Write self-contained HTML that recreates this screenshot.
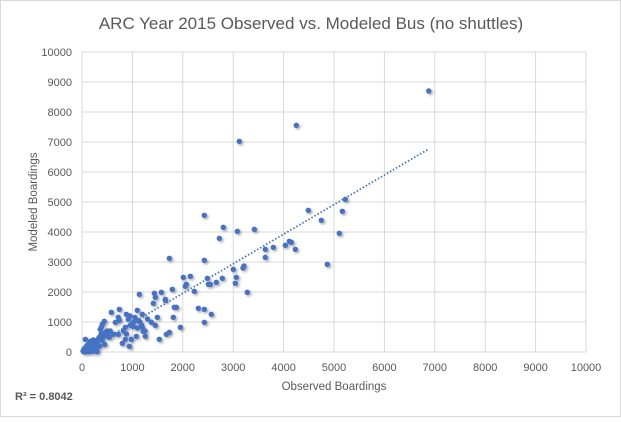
<!DOCTYPE html>
<html><head><meta charset="utf-8"><style>
body{margin:0;background:#fff;}
svg text{font-family:"Liberation Sans",sans-serif;fill:#595959;}
</style></head><body>
<svg id="chart" width="621" height="417" xmlns="http://www.w3.org/2000/svg">
<defs><filter id="sh" x="-100%" y="-100%" width="300%" height="300%"><feDropShadow dx="1.5" dy="1.5" stdDeviation="1.2" flood-color="#000" flood-opacity="0.35"/></filter></defs>
<rect x="0.5" y="0.5" width="620" height="416" fill="#fff" stroke="#d9d9d9"/>
<text x="311" y="29" font-size="17" text-anchor="middle">ARC Year 2015 Observed vs. Modeled Bus (no shuttles)</text>
<g id="grid"></g><g id="ticks"></g><g id="pts" filter="url(#sh)"></g><g id="trend"></g>
<text x="334" y="390" font-size="11.5" text-anchor="middle">Observed Boardings</text>
<text transform="translate(37,202) rotate(-90)" font-size="11.5" text-anchor="middle">Modeled Boardings</text>
<text x="15" y="400" font-size="11" font-weight="bold">R² = 0.8042</text>
</svg>
<script>
const xTicks=[0,1000,2000,3000,4000,5000,6000,7000,8000,9000,10000];
const yTicks=[0,1000,2000,3000,4000,5000,6000,7000,8000,9000,10000];
const observed=[6880,4252,3121,2427,2804,2725,3082,3419,1733,2427,3637,3637,3796,4034,4113,4153,4232,4490,4748,5224,5165,5105,4867,3002,3062,3042,3194,3214,3280,2010,2149,2069,2050,2486,2506,2546,2665,2784,2228,1792,1574,1653,1832,1872,2308,2427,1137,1435,2427,2565,581,740,879,1097,1196,1415,1455,1653,1832,442,402,382,362,661,720,740,918,1018,1097,958,859,1376,1495,1455,1196,1215,1255,1812,1951,1534,1673,1733,800,938,859,978,1077,720,621,542,343,303,243,66,158,1000,1050,950,1150,1100,1250,1300,880,820,1020,1180,500,460,420,380,330,300,280,250,220,200,180,160,140,120,100,90,80,60,50,40,30,20,350,310,260,230,210,190,170,150,130,110,70,400,450,270,240,300,200,150,120,90,60,40,480,520,560];
const modeled=[8700,7557,7023,4557,4157,3790,4023,4090,3123,3057,3423,3157,3490,3557,3690,3657,3423,4723,4390,5090,4690,3957,2923,2757,2490,2290,2800,2867,1990,2490,2523,2257,2190,2457,2257,2257,2323,2457,2023,2090,1990,1757,1490,1490,1457,1423,1923,1957,990,1257,1323,1423,1257,1390,1257,1623,1823,1723,1490,1023,923,823,757,990,1157,1057,1090,990,1057,890,823,990,1157,890,823,690,523,1157,823,423,590,657,290,190,423,423,523,590,590,490,490,390,390,423,290,950,1150,1200,1000,800,700,1100,600,700,850,900,700,650,500,600,450,300,350,250,400,300,200,350,150,250,100,200,150,80,120,50,60,30,200,150,100,120,80,60,40,50,20,30,10,380,250,60,30,10,20,15,5,40,10,5,560,640,700];
const trendSlope=[0.986];
const trendIntercept=[-17];
const trendRange=[0,6880];
const X=v=>82+v*(504/10000), Y=v=>352-v*(300/10000);
const NS="http://www.w3.org/2000/svg";
const grid=document.getElementById('grid'),ticks=document.getElementById('ticks'),pts=document.getElementById('pts'),trend=document.getElementById('trend');
function mk(tag,attrs,parent){const e=document.createElementNS(NS,tag);for(const k in attrs)e.setAttribute(k,attrs[k]);parent.appendChild(e);return e;}
yTicks.forEach(t=>{
 const l=mk('line',{x1:82,x2:586,y1:Y(t),y2:Y(t),stroke:'#d9d9d9','stroke-width':1},grid);
 
 
 const tx=mk('text',{x:72,y:Y(t)+4,'font-size':11,'text-anchor':'end'},ticks);tx.textContent=t;
 
 
});
xTicks.forEach(t=>{
 const l=mk('line',{x1:X(t),x2:X(t),y1:52,y2:352,stroke:'#d9d9d9','stroke-width':1},grid);
 
 
 const tx=mk('text',{x:X(t),y:371,'font-size':11,'text-anchor':'middle'},ticks);tx.textContent=t;
 
 
});
observed.forEach((o,i)=>{
 const c=mk('circle',{cx:X(o),cy:Y(modeled[i]),r:2.7,fill:'#4472c4'},pts);
 
 
});
const tl=mk('line',{x1:X(trendRange[0]),y1:Y(trendSlope[0]*trendRange[0]+trendIntercept[0]),x2:X(trendRange[1]),y2:Y(trendSlope[0]*trendRange[1]+trendIntercept[0]),stroke:'#4472c4','stroke-width':1.8,'stroke-dasharray':'1.5 2'},trend);


</script>
</body></html>
